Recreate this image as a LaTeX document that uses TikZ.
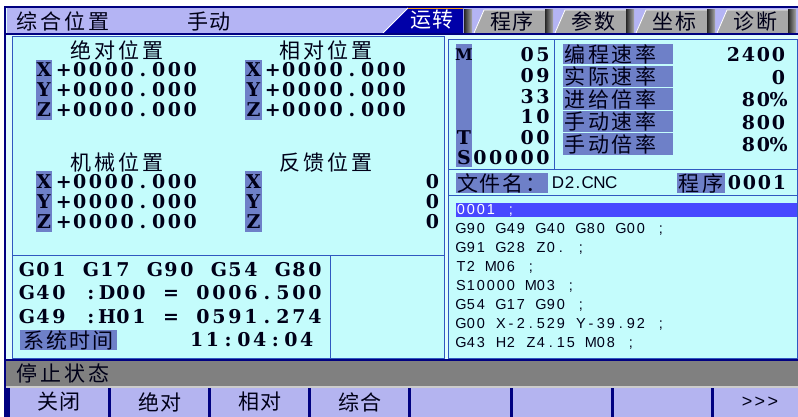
\documentclass[tikz,border=0pt]{standalone}
\usepackage{fontspec}
\setmainfont{Liberation Sans}
\newfontfamily\cjk{Noto Sans CJK SC}
\newfontfamily\dig{DejaVu Serif}
\makeatletter
\newcommand\fw[2]{\@tfor\fwch:=#2\do{\makebox[#1][c]{\fwch}}}
\makeatother
\newcommand\fwaux[2]{\fw{#2}{#1}}
\newcommand\fwx[2]{\expandafter\fwaux\expandafter{#2}{#1}}
\definecolor{frame}{HTML}{000080}
\definecolor{lav}{HTML}{B4B4F4}
\definecolor{panel}{HTML}{C4FCFC}
\definecolor{lbl}{HTML}{6E80C8}
\definecolor{pl}{HTML}{3058C0}
\definecolor{tabg}{HTML}{A8A8A8}
\definecolor{act}{HTML}{0000A8}
\definecolor{orng}{HTML}{F0A020}
\definecolor{stat}{HTML}{808080}
\definecolor{hil}{HTML}{4848FF}
\definecolor{btn}{HTML}{B4B4F0}
\definecolor{ink}{HTML}{000018}
\tikzset{
 tx/.style={inner sep=0pt, outer sep=0pt, text=ink},
 dg/.style={tx, font=\dig\bfseries\fontsize{19}{19}\selectfont},
 cn/.style={tx, font=\cjk\fontsize{21}{21}\selectfont},
 ps/.style={tx, font=\fontsize{14.5}{14.5}\selectfont},
 pline/.style={draw=pl, line width=1pt},
}
\begin{document}
\begin{tikzpicture}[x=1pt,y=-1pt]
\useasboundingbox (0,0) rectangle (798,417);
\fill[white] (0,0) rectangle (798,417);
% window
\fill[panel!50!white] (4,6) rectangle (798,417);
\draw[frame, line width=2pt] (5,417) -- (5,7) -- (798,7);
% title bar
\fill[lav] (7,8) rectangle (798,33);
\node[cn, anchor=west] (title) at (15,21) {\fw{24pt}{综合位置}};
\node[cn, anchor=west] (mode) at (187,22) {\fw{22pt}{手动}};
% active tab
\fill[act] (383,33) -- (408,8) -- (463,8) -- (463,33) -- cycle;
\draw[white, line width=1pt] (383,33) -- (408,8);
\draw[orng, line width=1.5pt] (408,8.5) -- (463,8.5);
\node[cn, text=white] (tab0) at (432,20) {\fw{22pt}{运转}};
% gray tabs
\foreach \L/\t [count=\i] in {472/程序, 553/参数, 634/坐标, 715/诊断} {
  \fill[tabg] (\L+2,33) -- (\L+12,10) -- (\L+73,10) -- (\L+73,33) -- cycle;
  \draw[white, line width=0.8pt] (\L+2,33) -- (\L+12,10) -- (\L+73,10);
  \node[cn] (tab\i) at (\L+40,22) {\fwx{23pt}{\t}};
}
\foreach \d in {464,545,626,707,788} {
  \shade[left color=black!85, right color=tabg] (\d,10) rectangle (\d+8,33);
}
\draw[frame, line width=2pt] (6,34) -- (798,34);
% left panel
\draw[pline, fill=panel] (12,37) rectangle (444,358);
\draw[pline] (12,255) -- (444,255);
\draw[pline] (330,255) -- (330,358);
\node[cn] (habs) at (117,50) {\fw{24pt}{绝对位置}};
\node[cn] (hrel) at (326,50) {\fw{24pt}{相对位置}};
\node[cn] (hmac) at (117,162) {\fw{24pt}{机械位置}};
\node[cn] (hfb) at (326,162) {\fw{24pt}{反馈位置}};
\fill[lbl] (36,60) rectangle (52,120);
\fill[lbl] (245,60) rectangle (262,120);
\fill[lbl] (36,171) rectangle (52,232);
\fill[lbl] (245,171) rectangle (262,232);
\foreach \a/\y in {X/70, Y/90, Z/110} {
  \node[dg] (la\a) at (44,\y) {\a};
  \node[dg, anchor=west] (va\a) at (56,\y) {\fw{15.8pt}{+0000.000}};
  \node[dg] (lr\a) at (253.5,\y) {\a};
  \node[dg, anchor=west] (vr\a) at (265,\y) {\fw{15.8pt}{+0000.000}};
}
\foreach \a/\y in {X/182, Y/202, Z/222} {
  \node[dg] (lm\a) at (44,\y) {\a};
  \node[dg, anchor=west] (vm\a) at (56,\y) {\fw{15.8pt}{+0000.000}};
  \node[dg] (lf\a) at (253.5,\y) {\a};
  \node[dg, anchor=east] (vf\a) at (439,\y) {0};
}
% G code box
\node[dg, anchor=west] (g1) at (19,270) {\fw{16pt}{G01~G17~G90~G54~G80}};
\node[dg, anchor=west] (g2) at (19,293) {\fw{16pt}{G40~:D00~=~0006.500}};
\node[dg, anchor=west] (g3) at (19,317) {\fw{16pt}{G49~:H01~=~0591.274}};
\fill[lbl] (20,330) rectangle (117,350);
\node[cn] (systime) at (68.5,340) {\fw{23pt}{系统时间}};
\node[dg, anchor=west] (clock) at (189,340) {\fw{15.7pt}{11:04:04}};
% right panel
\draw[pline, fill=panel] (448,40) rectangle (797,358);
\draw[pline] (554,40) -- (554,170);
\draw[pline] (448,170) -- (797,170);
\draw[pline] (448,195) -- (797,195);
\fill[lbl] (456,44) rectangle (472,167);
\node[dg, font=\dig\bfseries\fontsize{16}{16}\selectfont] (mM) at (464,55) {M};
\node[dg] (mT) at (464,138) {T};
\node[dg, anchor=east] (m1) at (551,55) {\fw{15.8pt}{05}};
\node[dg, anchor=east] (m2) at (551,76) {\fw{15.8pt}{09}};
\node[dg, anchor=east] (m3) at (551,97) {\fw{15.8pt}{33}};
\node[dg, anchor=east] (m4) at (551,117) {\fw{15.8pt}{10}};
\node[dg, anchor=east] (m5) at (551,138) {\fw{15.8pt}{00}};
\node[dg, anchor=east] (m6) at (551,158) {\fw{15.8pt}{S00000}};
\foreach \ya/\yb/\t/\v [count=\i] in {44/64/编程速率/2400, 66/87/实际速率/0, 88/110/进给倍率/80\%, 111/132/手动速率/800, 133/155/手动倍率/80\%} {
  \fill[lbl] (563,\ya) rectangle (673,\yb);
  \node[cn, anchor=west] (r\i) at (563,{(\ya+\yb)/2}) {\fwx{23.75pt}{\t}};
  \node[dg, anchor=east] (rv\i) at (786,{(\ya+\yb)/2+1}) {\fwx{15pt}{\v}};
}
% file row
\fill[lbl] (456,173) rectangle (548,193);
\node[cn, anchor=west] (fname) at (456,183) {\fw{23pt}{文件名：}};
\node[tx, anchor=west, font=\fontsize{17}{17}\selectfont] (fval) at (552,183) {\fw{11.8pt}{D2}.\hspace{1.5pt}\fw{11.8pt}{CNC}};
\fill[lbl] (677,173) rectangle (725,193);
\node[cn] (prog) at (701,183) {\fw{24pt}{程序}};
\node[dg, anchor=west] (pnum) at (727,183) {\fw{15pt}{0001}};
% program listing
\fill[hil] (456,203) rectangle (797,217);
\node[ps, anchor=west, text=white] (p1) at (456,210) {\fw{10pt}{0001~;}};
\node[ps, anchor=west] (p2) at (456,229) {\fw{10pt}{G90~G49~G40~G80~G00~;}};
\node[ps, anchor=west] (p3) at (456,248) {\fw{10pt}{G91~G28~Z0.~;}};
\node[ps, anchor=west] (p4) at (456,267) {\fw{10pt}{T2~M06~;}};
\node[ps, anchor=west] (p5) at (456,286) {\fw{10pt}{S10000~M03~;}};
\node[ps, anchor=west] (p6) at (456,305) {\fw{10pt}{G54~G17~G90~;}};
\node[ps, anchor=west] (p7) at (456,324) {\fw{10pt}{G00~X-2.529~Y-39.92~;}};
\node[ps, anchor=west] (p8) at (456,343) {\fw{10pt}{G43~H2~Z4.15~M08~;}};
% status bar
\draw[frame, line width=1.5pt] (6,360) -- (798,360);
\fill[stat] (6,361) rectangle (798,386);
\node[cn, anchor=west] (status) at (15,373) {\fw{24pt}{停止状态}};
% buttons
\fill[frame] (6,386) rectangle (798,417);
\fill[gray!40] (6,386) rectangle (798,388);
\foreach \a/\b in {10/108, 111/208, 211/308, 311/408, 411/510, 513/611, 614/711, 714/798} {
  \fill[btn] (\a,388) rectangle (\b,417);
}
\node[cn] (b1) at (59,402) {\fw{23pt}{关闭}};
\node[cn] (b2) at (160,402) {\fw{23pt}{绝对}};
\node[cn] (b3) at (260,402) {\fw{23pt}{相对}};
\node[cn] (b4) at (360,402) {\fw{23pt}{综合}};
\node[tx, font=\fontsize{18}{18}\selectfont] (b8) at (760,402) {\fw{13pt}{>>>}};
\end{tikzpicture}
\end{document}
